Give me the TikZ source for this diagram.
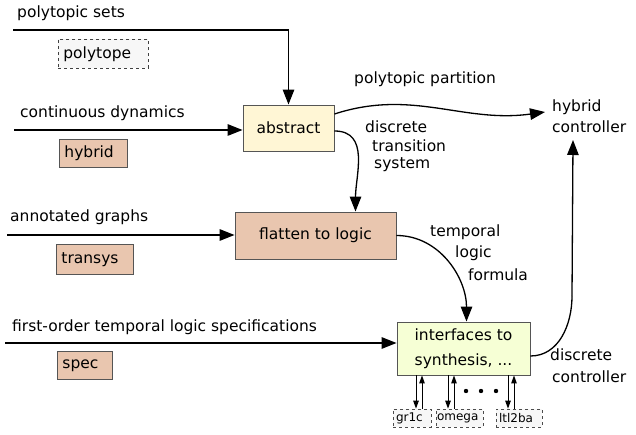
\documentclass[tikz,border=0pt]{standalone}
\usepackage{fontspec}
\setmainfont{DejaVu Sans}
\usetikzlibrary{arrows.meta,calc}
\definecolor{cTan}{HTML}{E9C6AF}
\definecolor{cAbs}{HTML}{FFF6D5}
\definecolor{cIf}{HTML}{F6FFD5}
\definecolor{cEdge}{HTML}{555555}
\begin{document}
\begin{tikzpicture}[x=1pt,y=1pt,
  font=\fontsize{15.5}{18}\selectfont,
  conn/.style={line width=1.3pt,-{Triangle[length=15pt,width=11.5pt]}},
  sconn/.style={line width=1pt,-{Triangle[length=8pt,width=5.5pt]}},
  lbl/.style={inner sep=0pt,anchor=west},
  proc/.style={draw=cEdge,line width=0.9pt,inner sep=0pt},
  modbox/.style={draw=cEdge,line width=0.9pt,fill=cTan,anchor=north west,inner xsep=5pt,inner ysep=0pt,align=left},
  dashbox/.style={draw=black!75,dashed,line width=0.8pt,fill=black!3,anchor=north west,inner xsep=5pt,inner ysep=0pt,align=left},
  tool/.style={draw=black!70,dashed,line width=0.7pt,fill=black!3,inner ysep=0pt,inner xsep=3pt,align=left,minimum height=18pt,font=\fontsize{12}{13}\selectfont},
]
\useasboundingbox (0,0) rectangle (636,-435);

% process boxes
\node[proc,fill=cAbs,minimum width=91pt,minimum height=46pt] (abstract) at (288.5,-128) {abstract};
\node[proc,fill=cTan,minimum width=161pt,minimum height=47pt] (flatten) at (315.5,-235.5) {flatten to logic};
\node[proc,fill=cIf,minimum width=133pt,minimum height=53pt,align=center,font=\fontsize{15.5}{25}\selectfont] (iface) at (463.5,-348.5) {interfaces to\\synthesis, ...};

% outputs
\node[lbl,align=left,font=\fontsize{15.5}{21}\selectfont] (hc) at (552,-116.5) {hybrid\\controller};
\node[lbl,align=left,font=\fontsize{15.5}{22}\selectfont] (dc) at (550,-366) {discrete\\\hspace*{2pt}controller};

% input labels
\node[lbl] (lps) at (17,-13) {polytopic sets};
\node[lbl] (lcd) at (20,-113) {continuous dynamics};
\node[lbl] (lag) at (10,-217) {annotated graphs};
\node[lbl] (lfo) at (12,-327) {first-order temporal logic specifications};

% module boxes
\node[dashbox,text width=80pt,minimum height=29pt] (polytope) at (58,-39) {polytope};
\node[modbox,text width=58pt,minimum height=28pt] (hybrid) at (59,-139) {hybrid};
\node[modbox,text width=67pt,minimum height=30pt] (transys) at (56,-244) {transys};
\node[modbox,text width=45pt,minimum height=28pt] (spec) at (57,-351) {spec};

% edge labels
\node[lbl] (lpp) at (354,-79) {polytopic partition};
\node[lbl] (ld1) at (365,-127) {discrete};
\node[lbl] (ld2) at (372,-146) {transition};
\node[lbl] (ld3) at (374,-165) {system};
\node[lbl] (lt1) at (430,-232) {temporal};
\node[lbl] (lt2) at (455,-253) {logic};
\node[lbl] (lt3) at (468,-275) {formula};

% tool boxes
\node[tool,text width=32pt] (gr1c) at (412,-418) {gr1c};
\node[tool,text width=45pt,inner xsep=1pt] (omega) at (459.5,-418) {omega};
\node[tool,text width=40pt] (ltl2ba) at (519,-418) {ltl2ba};

% input arrows
\coordinate (ps) at (13,-30);
\coordinate (cd) at (14,-130);
\coordinate (ag) at (7,-235);
\coordinate (fo) at (5,-343);
\draw[conn] (ps) -| (abstract.north);
\draw[conn] (cd) -- (cd -| abstract.west);
\draw[conn] (ag) -- (ag -| flatten.west);
\draw[conn] (fo) -- (fo -| iface.west);

% process arrows
\coordinate (hcin) at (573,-140);
\coordinate (hcpp) at (545,-112);
\draw[conn] ([yshift=14pt]abstract.east) to[out=18,in=188] (hcpp);
\draw[conn] ([yshift=-3pt]abstract.east) to[out=0,in=90,looseness=1.1] ([xshift=40pt]flatten.north);
\draw[conn] (flatten.east) to[out=0,in=90] ([xshift=3pt]iface.north);
\draw[line width=1.3pt] ([yshift=-7.5pt]iface.east) to[out=0,in=-90] ($(hcin)+(-1,-156)$);
\draw[conn] ($(hcin)+(-1,-156)$) -- (hcin);

% tool arrows
\draw[sconn] (416,0 |- iface.south) -- (416,0 |- gr1c.north);
\draw[sconn] (422,0 |- gr1c.north) -- (422,0 |- iface.south);
\draw[sconn] (448,0 |- iface.south) -- (448,0 |- omega.north);
\draw[sconn] (454,0 |- omega.north) -- (454,0 |- iface.south);
\draw[sconn] (508,0 |- iface.south) -- (508,0 |- ltl2ba.north);
\draw[sconn] (514,0 |- ltl2ba.north) -- (514,0 |- iface.south);
\fill (466,-391) circle (2.2);
\fill (481,-391) circle (2.2);
\fill (496,-391) circle (2.2);
\end{tikzpicture}
\end{document}
